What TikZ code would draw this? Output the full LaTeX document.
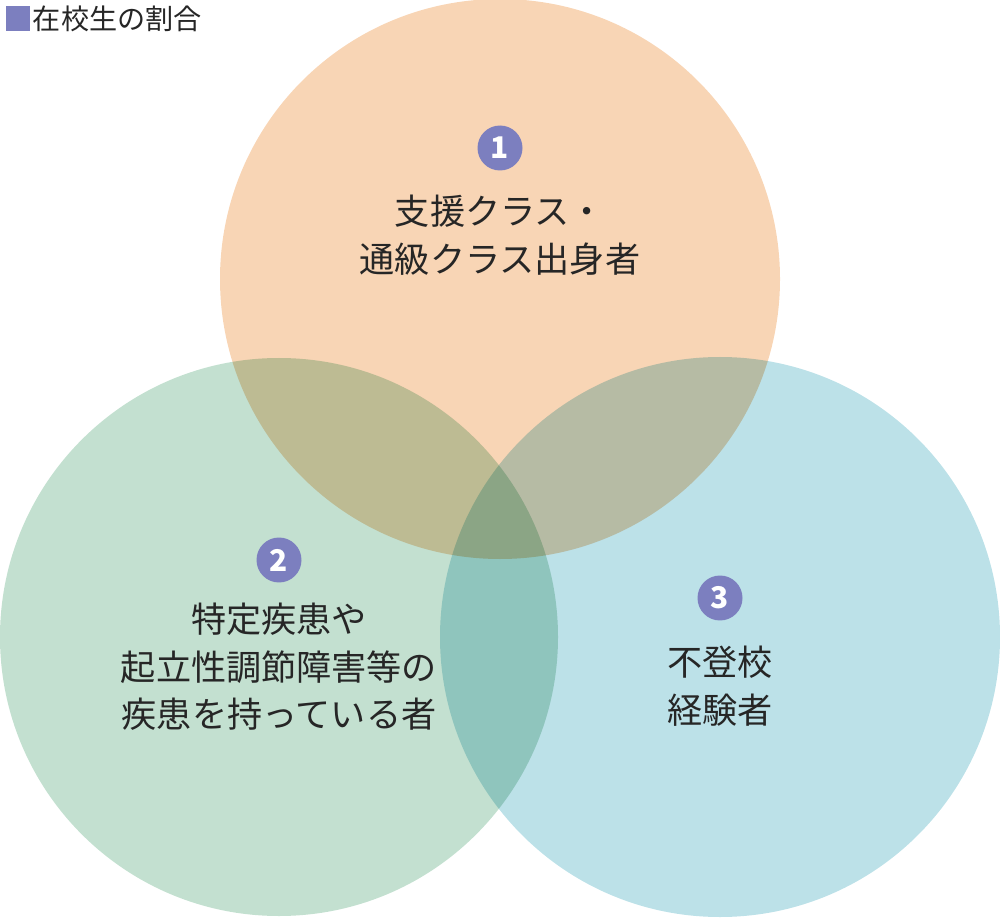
\documentclass[tikz,border=0pt]{standalone}
\usepackage{fontspec}
\setmainfont{Noto Sans CJK JP}
\usetikzlibrary{positioning}
\definecolor{topc}{RGB}{248,213,181}
\definecolor{leftc}{RGB}{195,224,208}
\definecolor{rightc}{RGB}{188,225,232}
\definecolor{badgec}{RGB}{124,127,191}
\begin{document}
\begin{tikzpicture}[
x=0.02cm, y=-0.02cm,
badge/.style={circle, fill=badgec, text=white, minimum size=0.9cm, inner sep=0pt, font=\fontsize{17}{17}\selectfont\bfseries},
label/.style={align=center, font=\fontsize{20}{27}\selectfont, text=black!85}
]
\useasboundingbox (0,0) rectangle (1000,918);

% Circles
\begin{scope}[blend group=multiply]
\fill[topc] (500,279) circle[radius=280];
\fill[leftc] (279,637) circle[radius=279];
\fill[rightc] (720,637) circle[radius=280];
\end{scope}

% Legend
\node (key) [fill=badgec, minimum size=0.5cm, inner sep=0pt] at (18,19) {};
\node (keytext) [right=1pt of key, inner sep=0pt, font=\fontsize{16}{16}\selectfont, text=black!85] {在校生の割合};

% Badges and labels
\node (b1) [badge] at (500,148) {1};
\node (t1) [label] at (500,235) {支援クラス・\\通級クラス出身者};
\node (b2) [badge] at (279,560) {2};
\node (t2) [label] at (279,667) {特定疾患や\\起立性調節障害等の\\疾患を持っている者};
\node (b3) [badge] at (720,598) {3};
\node (t3) [label] at (720,686) {不登校\\経験者};
\end{tikzpicture}
\end{document}
